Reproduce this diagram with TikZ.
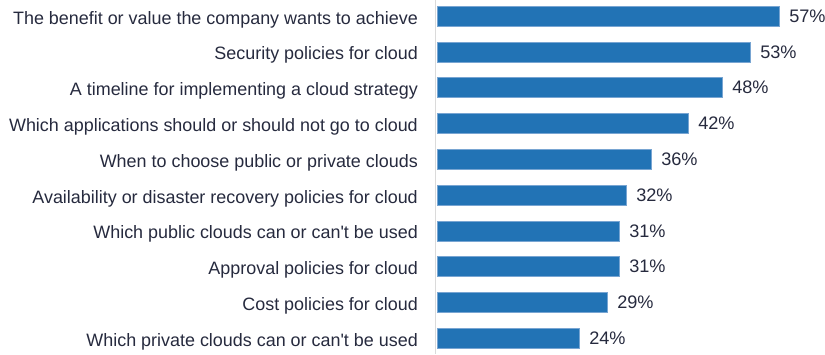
\documentclass[tikz,border=0pt]{standalone}
\usepackage{fontspec}
\setmainfont{Liberation Sans}
\usetikzlibrary{positioning}
\definecolor{barblue}{RGB}{34,115,181}
\definecolor{baredge}{RGB}{120,165,210}
\definecolor{txtdark}{RGB}{38,42,62}
\definecolor{axisgray}{RGB}{218,218,218}
\begin{document}
\begin{tikzpicture}[x=1bp,y=-1bp,
  bar/.style={draw=baredge,line width=0.6bp,fill=barblue,minimum height=20bp,inner sep=0pt,anchor=west},
  lab/.style={text=txtdark,inner sep=0pt,anchor=base east,font=\fontsize{18}{20}\selectfont},
  val/.style={text=txtdark,inner sep=0pt,font=\fontsize{18.2}{20}\selectfont}]
\useasboundingbox (0,0) rectangle (825,354);
% axis
\coordinate (top) at (435.5,0);
\coordinate (bot) at (435.5,354);
\draw[axisgray,line width=1.5bp] (top) -- (bot);

% bars
\node[bar,minimum width=342bp] (b1) at (436.5,16) {};
\node[bar,minimum width=313bp] (b2) at (436.5,51.8) {};
\node[bar,minimum width=285bp] (b3) at (436.5,87.6) {};
\node[bar,minimum width=251bp] (b4) at (436.5,123.4) {};
\node[bar,minimum width=214bp] (b5) at (436.5,159.2) {};
\node[bar,minimum width=189bp] (b6) at (436.5,195) {};
\node[bar,minimum width=182bp] (b7) at (436.5,230.8) {};
\node[bar,minimum width=182bp] (b8) at (436.5,266.6) {};
\node[bar,minimum width=170bp] (b9) at (436.5,302.4) {};
\node[bar,minimum width=142bp] (b10) at (436.5,338.2) {};

% categories
\node[lab] (l1) at (418,24) {The benefit or value the company wants to achieve};
\node[lab] (l2) at (418,59.8) {Security policies for cloud};
\node[lab] (l3) at (418,95.6) {A timeline for implementing a cloud strategy};
\node[lab] (l4) at (418,131.4) {Which applications should or should not go to cloud};
\node[lab] (l5) at (418,167.2) {When to choose public or private clouds};
\node[lab] (l6) at (418,203) {Availability or disaster recovery policies for cloud};
\node[lab] (l7) at (418,238.8) {Which public clouds can or can\textquotesingle t be used};
\node[lab] (l8) at (418,274.6) {Approval policies for cloud};
\node[lab] (l9) at (418,310.4) {Cost policies for cloud};
\node[lab] (l10) at (418,346.2) {Which private clouds can or can\textquotesingle t be used};

% percentages
\node[val,right=10bp of b1] (v1) {57\%};
\node[val,right=10bp of b2] (v2) {53\%};
\node[val,right=10bp of b3] (v3) {48\%};
\node[val,right=10bp of b4] (v4) {42\%};
\node[val,right=10bp of b5] (v5) {36\%};
\node[val,right=10bp of b6] (v6) {32\%};
\node[val,right=10bp of b7] (v7) {31\%};
\node[val,right=10bp of b8] (v8) {31\%};
\node[val,right=10bp of b9] (v9) {29\%};
\node[val,right=10bp of b10] (v10) {24\%};
\end{tikzpicture}
\end{document}
